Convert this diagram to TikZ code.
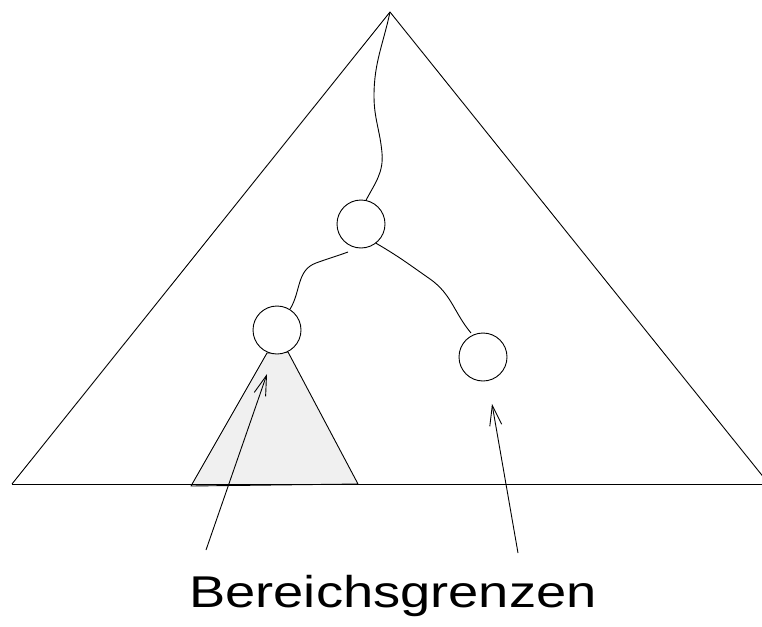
\documentclass[tikz,border=0pt]{standalone}
\usepackage{fontspec}
\setmainfont{Liberation Sans}
\usetikzlibrary{arrows.meta}
\definecolor{subtree}{gray}{0.94}
\begin{document}
\begin{tikzpicture}[x=1pt,y=-1pt,
  line/.style={line width=0.9pt, line join=round},
  knot/.style={circle, draw, fill=white, line width=0.9pt, minimum size=48pt, inner sep=0pt},
  pointer/.style={line width=0.9pt, -{Straight Barb[length=20pt,width=12pt,line width=0.9pt]}},
  caption/.style={font=\fontsize{44.5}{50}\selectfont, xscale=1.22, inner sep=0pt, anchor=base}
]
\useasboundingbox (0,0) rectangle (762,626);
\clip (0,0) rectangle (762,626);

% corners of the whole range
\coordinate (apex) at (390,12);
\coordinate (bl) at (12,484);
\coordinate (br) at (769,484);

% shaded subtree below the left child
\coordinate (sa) at (267,353);
\coordinate (sb) at (288,352);
\coordinate (sl) at (191,486);
\coordinate (sr) at (358,484);
\filldraw[line, fill=subtree] (sl) -- (sa) -- (sb) -- (sr) -- cycle;

% big triangle
\draw[line] (bl) -- (apex) -- (br);
\draw[line] (bl) -- (762,484);

% tree nodes
\node[knot] (root) at (361,224) {};
\node[knot] (left) at (277,330) {};
\node[knot] (right) at (483,357) {};

% path from the apex down to the root
\coordinate (w1) at (374,96);
\coordinate (w2) at (382,153);
\draw[line] (apex) to[out=-102,in=90] (w1) to[out=-90,in=95] (w2) to[out=-85,in=62] (root.78);

% edges to the children
\coordinate (le0) at (348,252);
\coordinate (le1) at (316,263);
\draw[line] (le0) to[out=200,in=20] (le1) to[out=200,in=58] (left.58);
\coordinate (re1) at (430,279);
\coordinate (re0) at (471,333);
\draw[line] (root.-52) to[out=-30,in=145] (re1) to[out=-35,in=130] (re0);

% labels with pointers
\node[caption] (label) at (393,607.5) {Bereichsgrenzen};
\coordinate (p1) at (206,550);
\coordinate (t1) at (267,374);
\coordinate (p2) at (518,553);
\coordinate (t2) at (492,404);
\draw[pointer] (p1) -- (t1);
\draw[pointer] (p2) -- (t2);
\end{tikzpicture}
\end{document}
